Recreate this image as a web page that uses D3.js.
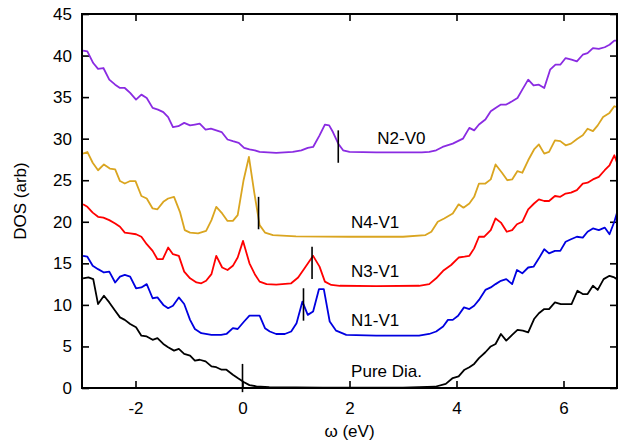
<!DOCTYPE html>
<html>
<head>
<meta charset="utf-8">
<script src="https://cdn.jsdelivr.net/npm/d3@7"></script>
<style>
  body { margin: 0; background: #fff; }
  svg { display: block; font-family: "Liberation Sans", Arial, sans-serif; }
</style>
</head>
<body>
<svg width="626" height="445"></svg>
<script>
// DOS curves, [omega (eV), DOS]
var pureDia = [[-2.98,13.2],[-2.88,13.3],[-2.79,13.1],[-2.70,10.1],[-2.59,11.1],[-2.49,10.3],[-2.38,9.3],[-2.29,8.5],[-2.20,8.2],[-2.10,7.7],[-1.99,7.3],[-1.89,6.3],[-1.79,6.2],[-1.68,5.8],[-1.59,6.0],[-1.48,5.3],[-1.39,4.9],[-1.28,4.5],[-1.19,4.7],[-1.09,4.1],[-0.98,3.9],[-0.89,3.3],[-0.80,3.4],[-0.69,3.2],[-0.58,2.6],[-0.49,2.5],[-0.39,2.2],[-0.30,2.2],[-0.18,1.6],[-0.09,1.2],[0.03,0.7],[0.13,0.35],[0.26,0.2],[0.5,0.1],[1.5,0.05],[3.0,0.05],[3.6,0.15],[3.80,0.5],[3.93,1.2],[4.04,1.4],[4.15,2.2],[4.24,2.5],[4.33,2.9],[4.42,3.6],[4.54,4.3],[4.64,5.0],[4.73,5.3],[4.83,6.5],[4.93,5.7],[5.04,6.4],[5.14,7.0],[5.24,6.9],[5.34,6.7],[5.45,8.3],[5.54,9.0],[5.64,9.5],[5.73,9.5],[5.84,10.3],[5.95,10.1],[6.15,10.1],[6.26,11.7],[6.36,11.3],[6.45,11.3],[6.55,12.3],[6.64,11.8],[6.75,13.1],[6.86,13.5],[6.95,13.3],[7.0,13.1]];

var n1v1 = [[-2.98,15.9],[-2.90,15.8],[-2.80,14.7],[-2.70,14.3],[-2.59,13.9],[-2.49,14.0],[-2.38,12.7],[-2.29,13.4],[-2.20,13.6],[-2.10,13.4],[-1.99,12.0],[-1.89,12.1],[-1.79,12.5],[-1.68,10.8],[-1.59,10.9],[-1.48,10.0],[-1.39,9.6],[-1.30,9.9],[-1.19,10.9],[-1.09,10.1],[-0.98,8.2],[-0.89,7.1],[-0.77,6.6],[-0.58,6.4],[-0.40,6.4],[-0.30,6.5],[-0.18,7.2],[-0.09,7.1],[0.03,8.0],[0.13,8.7],[0.32,8.7],[0.42,7.2],[0.51,6.8],[0.63,6.5],[0.79,6.5],[0.91,6.8],[1.01,7.8],[1.12,10.4],[1.22,8.8],[1.32,9.2],[1.43,11.9],[1.52,11.9],[1.63,8.0],[1.75,6.9],[1.94,6.4],[2.5,6.3],[3.3,6.3],[3.49,6.5],[3.62,6.8],[3.75,7.4],[3.84,8.2],[3.93,8.2],[4.03,8.7],[4.14,9.7],[4.24,9.5],[4.33,9.9],[4.42,10.6],[4.54,11.8],[4.64,12.1],[4.73,12.5],[4.83,12.9],[4.93,13.1],[5.04,12.5],[5.13,14.2],[5.23,13.8],[5.34,14.5],[5.44,14.6],[5.54,15.6],[5.64,16.7],[5.73,16.2],[5.84,16.5],[5.94,16.5],[6.04,17.6],[6.14,17.9],[6.25,18.2],[6.36,18.1],[6.45,18.8],[6.55,19.2],[6.66,19.0],[6.77,19.3],[6.86,18.5],[6.95,20.0],[7.0,21.1]];

var n3v1 = [[-2.98,22.1],[-2.90,21.8],[-2.80,21.1],[-2.70,20.6],[-2.60,20.5],[-2.49,20.2],[-2.38,19.8],[-2.29,19.4],[-2.20,18.7],[-2.10,18.6],[-1.99,18.5],[-1.89,18.2],[-1.79,17.3],[-1.68,16.5],[-1.59,15.5],[-1.49,15.5],[-1.39,16.9],[-1.30,16.1],[-1.19,15.9],[-1.09,14.0],[-0.98,13.2],[-0.86,12.7],[-0.77,12.6],[-0.68,12.9],[-0.58,13.7],[-0.49,15.9],[-0.38,14.5],[-0.28,14.2],[-0.18,14.7],[-0.09,15.7],[0.01,17.7],[0.13,15.0],[0.23,13.7],[0.32,12.8],[0.45,12.5],[0.63,12.45],[0.91,12.6],[1.04,13.3],[1.16,14.4],[1.32,15.9],[1.44,14.6],[1.54,12.8],[1.66,12.4],[1.82,12.3],[2.5,12.25],[3.3,12.3],[3.49,12.5],[3.62,13.2],[3.75,14.1],[3.90,14.8],[4.04,15.7],[4.15,15.8],[4.24,15.9],[4.33,16.8],[4.42,18.2],[4.52,18.2],[4.64,19.0],[4.73,20.4],[4.83,19.9],[4.94,18.8],[5.04,19.0],[5.13,19.7],[5.23,20.0],[5.34,21.5],[5.45,22.2],[5.54,22.7],[5.64,22.5],[5.73,22.5],[5.84,23.1],[5.94,23.0],[6.04,23.4],[6.14,23.5],[6.25,23.8],[6.36,24.6],[6.45,24.7],[6.55,25.1],[6.66,25.4],[6.77,26.2],[6.86,26.8],[6.95,28.0],[7.0,27.1]];

var n4v1 = [[-2.98,28.2],[-2.90,28.4],[-2.80,27.1],[-2.70,26.2],[-2.59,26.9],[-2.48,26.4],[-2.38,26.3],[-2.29,24.9],[-2.20,24.6],[-2.10,24.9],[-2.00,24.9],[-1.89,23.1],[-1.79,22.8],[-1.68,21.6],[-1.59,21.5],[-1.48,22.4],[-1.39,22.8],[-1.28,23.0],[-1.17,21.2],[-1.08,19.0],[-0.98,18.7],[-0.83,18.6],[-0.68,18.9],[-0.58,20.2],[-0.49,21.8],[-0.38,21.0],[-0.28,20.1],[-0.18,20.1],[-0.09,20.8],[0.02,25.0],[0.12,27.8],[0.22,23.5],[0.32,19.6],[0.42,18.7],[0.57,18.4],[1.0,18.25],[2.0,18.2],[3.0,18.2],[3.42,18.4],[3.53,18.8],[3.65,20.0],[3.77,20.4],[3.93,21.0],[4.04,22.1],[4.13,21.7],[4.24,22.2],[4.33,23.0],[4.42,24.6],[4.54,24.6],[4.64,25.1],[4.73,26.9],[4.85,25.9],[4.95,25.0],[5.04,25.1],[5.14,26.1],[5.23,25.9],[5.34,27.4],[5.45,28.7],[5.54,29.3],[5.64,28.2],[5.73,28.4],[5.84,29.8],[5.94,29.7],[6.04,29.2],[6.14,29.4],[6.26,30.0],[6.36,30.4],[6.45,31.2],[6.55,30.9],[6.64,31.6],[6.74,32.6],[6.86,33.1],[6.95,33.9],[7.0,33.8]];

var n2v0 = [[-2.98,40.6],[-2.90,40.5],[-2.79,39.1],[-2.70,38.4],[-2.60,38.5],[-2.49,37.1],[-2.38,36.5],[-2.29,36.1],[-2.20,36.1],[-2.10,35.5],[-1.99,34.7],[-1.89,35.3],[-1.79,34.9],[-1.68,33.7],[-1.58,33.5],[-1.48,33.2],[-1.39,32.6],[-1.30,31.4],[-1.20,31.5],[-1.09,31.9],[-0.98,31.6],[-0.89,31.7],[-0.80,31.8],[-0.69,31.1],[-0.59,31.2],[-0.49,31.0],[-0.39,30.8],[-0.28,29.9],[-0.18,29.7],[-0.07,29.5],[0.03,28.9],[0.13,28.7],[0.23,28.6],[0.32,28.4],[0.63,28.3],[0.94,28.4],[1.10,28.6],[1.22,28.9],[1.32,29.0],[1.44,30.4],[1.54,31.7],[1.62,31.6],[1.69,30.8],[1.79,29.4],[1.88,28.6],[2.00,28.4],[2.5,28.35],[3.0,28.35],[3.35,28.35],[3.49,28.4],[3.62,28.6],[3.74,29.0],[3.93,29.4],[4.12,30.0],[4.24,31.3],[4.33,31.0],[4.42,31.7],[4.54,32.3],[4.64,33.3],[4.73,33.7],[4.83,34.1],[4.93,34.1],[5.04,34.5],[5.14,34.9],[5.23,35.9],[5.34,37.1],[5.44,36.4],[5.54,36.5],[5.64,36.1],[5.75,38.3],[5.85,38.9],[5.94,38.9],[6.04,39.7],[6.15,39.5],[6.25,39.3],[6.36,40.1],[6.45,40.3],[6.55,40.9],[6.66,40.8],[6.77,41.0],[6.86,41.3],[6.95,41.8],[7.0,41.8]];

var seriesData = [pureDia, n1v1, n3v1, n4v1, n2v0];
var seriesColors = ['#000000', '#0000e0', '#ff0000', '#daa520', '#8a2be2'];

// curve labels (data coords of text start / baseline)
var labelText = ['Pure Dia.', 'N1-V1', 'N3-V1', 'N4-V1', 'N2-V0'];
var labelX = [2.03, 2.03, 2.03, 2.03, 2.52];
var labelY = [1.36, 7.4, 13.3, 19.2, 29.4];

// short vertical marker bars
var markerX = [0, 1.14, 1.30, 0.30, 1.79];
var markerLow = [-0.5, 8.1, 13.1, 19.1, 27.1];
var markerHigh = [2.9, 12.0, 17.0, 23.0, 31.0];

var xTicks = [-2, 0, 2, 4, 6];
var yTicks = [0, 5, 10, 15, 20, 25, 30, 35, 40, 45];

var plotLeft = 82, plotRight = 617, plotTop = 14, plotBottom = 388;

var svg = d3.select('svg');

var x = d3.scaleLinear().domain([-3, 7]).range([plotLeft, plotRight]);
var y = d3.scaleLinear().domain([0, 45]).range([plotBottom, plotTop]);

var fmt = function(d) { return String(d); };   // plain hyphen minus like the original

svg.append('clipPath').attr('id', 'plotclip')
    .append('rect')
    .attr('x', plotLeft).attr('y', plotTop)
    .attr('width', plotRight - plotLeft).attr('height', plotBottom - plotTop);

// axes with inward ticks
var gx = svg.append('g').attr('transform', 'translate(0,' + plotBottom + ')')
    .call(d3.axisBottom(x).tickValues(xTicks).tickSize(-7).tickSizeOuter(0).tickPadding(14).tickFormat(fmt));
var gxTop = svg.append('g').attr('transform', 'translate(0,' + plotTop + ')')
    .call(d3.axisTop(x).tickValues(xTicks).tickSize(-7).tickSizeOuter(0).tickFormat(''));
var gy = svg.append('g').attr('transform', 'translate(' + plotLeft + ',0)')
    .call(d3.axisLeft(y).tickValues(yTicks).tickSize(-7).tickSizeOuter(0).tickPadding(10).tickFormat(fmt));
var gyRight = svg.append('g').attr('transform', 'translate(' + plotRight + ',0)')
    .call(d3.axisRight(y).tickValues(yTicks).tickSize(-7).tickSizeOuter(0).tickFormat(''));

[gx, gxTop, gy, gyRight].forEach(function(g) {
    g.select('.domain').remove();
    g.selectAll('.tick line').attr('stroke', '#000').attr('stroke-width', 1.6);
    g.selectAll('.tick text').attr('fill', '#000').style('font-size', '17px')
        .style('font-family', '"Liberation Sans", Arial, sans-serif');
});

var line = d3.line()
    .x(function(d) { return x(d[0]); })
    .y(function(d) { return y(d[1]); });

svg.append('g').attr('clip-path', 'url(#plotclip)')
    .selectAll('path')
    .data(seriesData)
    .enter().append('path')
    .attr('d', line)
    .attr('fill', 'none')
    .attr('stroke', function(d, i) { return seriesColors[i]; })
    .attr('stroke-width', 1.8)
    .attr('stroke-linejoin', 'round');

svg.append('g').selectAll('line')
    .data(markerX)
    .enter().append('line')
    .attr('x1', function(d) { return x(d); })
    .attr('x2', function(d) { return x(d); })
    .attr('y1', function(d, i) { return y(markerLow[i]); })
    .attr('y2', function(d, i) { return y(markerHigh[i]); })
    .attr('stroke', '#000')
    .attr('stroke-width', 1.6);

svg.append('g').selectAll('text')
    .data(labelText)
    .enter().append('text')
    .attr('x', function(d, i) { return x(labelX[i]); })
    .attr('y', function(d, i) { return y(labelY[i]); })
    .style('font-size', '17px')
    .attr('fill', '#000')
    .text(function(d) { return d; });

// frame
svg.append('rect')
    .attr('x', plotLeft).attr('y', plotTop)
    .attr('width', plotRight - plotLeft).attr('height', plotBottom - plotTop)
    .attr('fill', 'none')
    .attr('stroke', '#000')
    .attr('stroke-width', 2);

svg.append('text')
    .attr('x', (plotLeft + plotRight) / 2)
    .attr('y', 437)
    .attr('text-anchor', 'middle')
    .style('font-size', '17px')
    .text('\u03c9 (eV)');

svg.append('text')
    .attr('transform', 'translate(26,' + (plotTop + plotBottom) / 2 + ') rotate(-90)')
    .attr('text-anchor', 'middle')
    .style('font-size', '17px')
    .text('DOS (arb)');
</script>
</body>
</html>
